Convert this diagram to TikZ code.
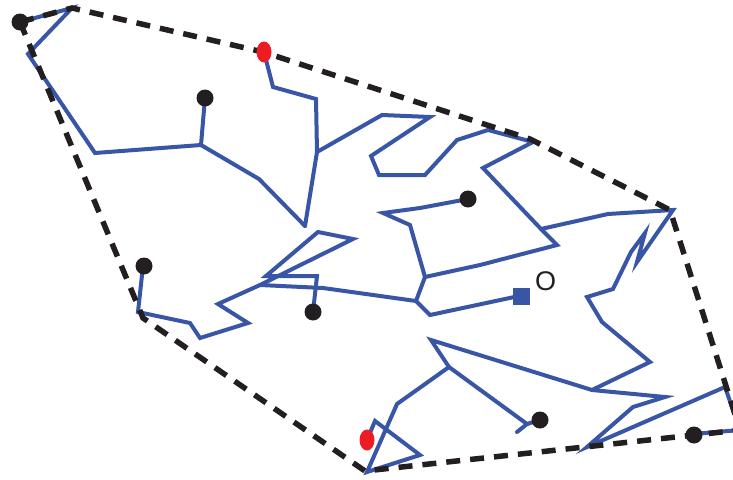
\documentclass[tikz,border=0pt]{standalone}
\usepackage{fontspec}
\setmainfont{Liberation Sans}
\usetikzlibrary{shapes.geometric}
\definecolor{treeblue}{RGB}{57,86,166}
\definecolor{hullblack}{RGB}{35,31,32}
\definecolor{rootred}{RGB}{237,28,36}
\begin{document}
\begin{tikzpicture}[x=1pt,y=-1pt,
  edge/.style={draw=treeblue,line width=4pt,line join=miter,line cap=round},
  hull/.style={draw=hullblack,line width=5.5pt,dash pattern=on 14pt off 10pt},
  leaf/.style={circle,fill=hullblack,minimum size=17pt,inner sep=0pt},
  redleaf/.style={ellipse,fill=rootred,minimum width=15pt,minimum height=21pt,inner sep=0pt},
  origin/.style={rectangle,fill=treeblue,minimum size=17pt,inner sep=0pt}]
\useasboundingbox (0,0) rectangle (733,479);
\clip (0,0) rectangle (733,479);

% hull vertices
\coordinate (h1) at (20,22);
\coordinate (h2) at (72,8);
\coordinate (h3) at (263,52);
\coordinate (h4) at (530,139);
\coordinate (h5) at (670,210);
\coordinate (h6) at (740,430);
\coordinate (h7) at (365,471);
\coordinate (h8) at (143,318);

% junctions of the tree
\coordinate (j1) at (201,145);
\coordinate (j2) at (305,226);
\coordinate (j3) at (317,152);
\coordinate (j4) at (541,229);
\coordinate (j5) at (557,245);
\coordinate (j6) at (425,277);
\coordinate (j7) at (592,390);
\coordinate (j8) at (416,301);
\coordinate (j9) at (260,285);
\coordinate (j10) at (431,340);
\coordinate (j11) at (449,367);
\coordinate (j12) at (527,424);
\coordinate (far) at (740,430);

% tree edges
\draw[edge] (20,22) -- (72,8) -- (28,54) -- (95,153) -- (j1);
\draw[edge] (205,98) -- (j1);
\draw[edge] (j1) -- (259,179) -- (j2);
\draw[edge] (264,52) -- (273,87) -- (316,99) -- (j3) -- (j2);
\draw[edge] (j3) -- (382,115) -- (430,117) -- (371,156) -- (379,175) -- (425,175)
  -- (457,140) -- (488,130) -- (533,142) -- (483,168) -- (j4) -- (j5) -- (480,265) -- (j6);
\draw[edge] (j4) -- (608,214) -- (673,210) -- (637,262) -- (645,233) -- (631,252)
  -- (613,289) -- (587,297) -- (602,322) -- (650,362) -- (j7);
\draw[edge] (j6) -- (410,225) -- (383,213) -- (420,208) -- (468,199);
\draw[edge] (j6) -- (j8) -- (430,315) -- (519,296);
\draw[edge] (j8) -- (323,288) -- (j9);
\draw[edge] (j9) -- (353,239) -- (318,232) -- (266,276) -- (317,276) -- (313,312);
\draw[edge] (143,266) -- (138,312) -- (190,323) -- (200,338) -- (248,323) -- (218,304) -- (j9);
\draw[edge] (j7) -- (665,397) -- (633,407) -- (587,447) -- (725,387) -- (far);
\draw[edge] (693,434) -- (far);
\draw[edge] (j7) -- (j10) -- (j11) -- (397,404) -- (367,472) -- (420,455) -- (375,421) -- (367,440);
\draw[edge] (j11) -- (j12) -- (517,432);
\draw[edge] (j12) -- (540,420);

% convex hull
\draw[hull] (h1) -- (h2) -- (h3) -- (h4) -- (h5) -- (h6) -- (h7) -- (h8) -- cycle;

% leaves, roots and the origin
\node[leaf] (a) at (20,22) {};
\node[leaf] (b) at (205,98) {};
\node[leaf] (c) at (468,199) {};
\node[leaf] (d) at (313,312) {};
\node[leaf] (e) at (144,266) {};
\node[leaf] (f) at (540,420) {};
\node[leaf] (g) at (694,435) {};
\node[redleaf] (r1) at (264,52) {};
\node[redleaf] (r2) at (367,440) {};
\node[origin] (o) at (521,296) {};
\node[anchor=south west,inner sep=0pt,font=\fontsize{27}{27}\selectfont,text=hullblack] (ol) at (535,291) {O};
\end{tikzpicture}
\end{document}
